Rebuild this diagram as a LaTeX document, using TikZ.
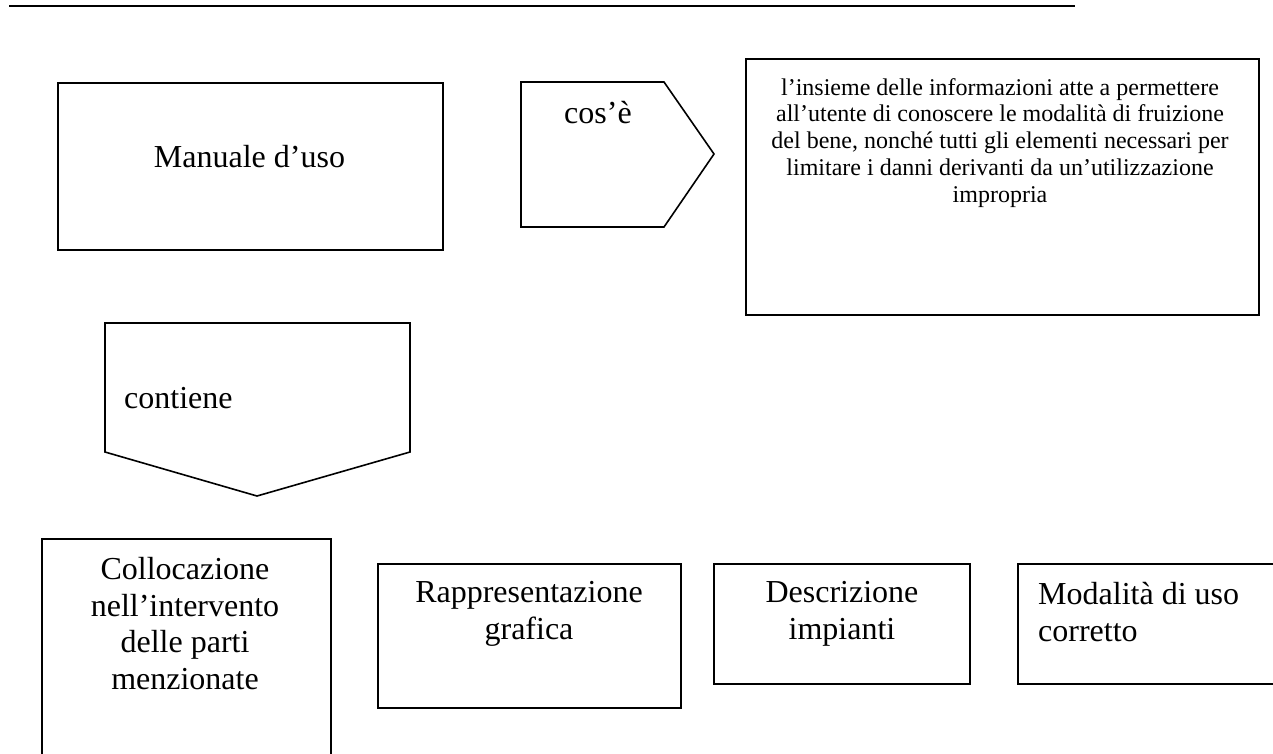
\documentclass[tikz,border=0pt]{standalone}
\usepackage{fontspec}
\setmainfont{Liberation Serif}
\begin{document}
\begin{tikzpicture}[x=1pt,y=-1pt,
  boxline/.style={draw=black,line width=1.6pt},
  boxnode/.style={boxline,rectangle,inner sep=0pt,anchor=north west},
  bigtext/.style={font=\fontsize{32}{36.6}\selectfont,inner sep=0pt},
  smalltext/.style={font=\fontsize{24}{26.8}\selectfont,inner sep=0pt}]
\useasboundingbox (0,0) rectangle (1273,753);
\clip (0,0) rectangle (1273,753);
% top rule
\coordinate (ruleL) at (9,6);
\coordinate (ruleR) at (1075,6);
\draw[line width=1.6pt] (ruleL) -- (ruleR);
% boxes
\node[boxnode,minimum width=385pt,minimum height=167pt] (manbox) at (57,82) {};
\node[boxnode,minimum width=513pt,minimum height=256pt] (defbox) at (745,58) {};
\node[boxnode,minimum width=289pt,minimum height=260pt] (colbox) at (41,538) {};
\node[boxnode,minimum width=303pt,minimum height=144pt] (rapbox) at (377,563) {};
\node[boxnode,minimum width=256pt,minimum height=120pt] (desbox) at (713,563) {};
\node[boxnode,minimum width=290pt,minimum height=120pt] (modbox) at (1017,563) {};
% arrow-shaped labels
\draw[boxline,line join=miter] (521,82) -- (664,82) -- (714,154) -- (664,227) -- (521,227) -- cycle;
\draw[boxline,line join=miter] (105,323) -- (410,323) -- (410,452) -- (257,496) -- (105,452) -- cycle;
% texts
\node[bigtext,anchor=base] (mantext) at (249.5,167) {Manuale d’uso};
\node[bigtext,anchor=base west] (costext) at (564,123) {cos’è};
\node[smalltext,anchor=north,align=center] (deftext) at (1000,78)
  {l’insieme delle informazioni atte a permettere\\
   all’utente di conoscere le modalità di fruizione\\
   del bene, nonché tutti gli elementi necessari per\\
   limitare i danni derivanti da un’utilizzazione\\
   impropria};
\node[bigtext,anchor=base west] (context) at (124,408) {contiene};
\node[bigtext,anchor=north,align=center] (coltext) at (185,557)
  {Collocazione\\nell’intervento\\delle parti\\menzionate};
\node[bigtext,anchor=north,align=center] (raptext) at (529,581)
  {Rappresentazione\\grafica};
\node[bigtext,anchor=north,align=center] (destext) at (842,581)
  {Descrizione\\impianti};
\node[bigtext,anchor=north west,align=left] (modtext) at (1038,582)
  {Modalità di uso\\corretto};
\end{tikzpicture}
\end{document}
